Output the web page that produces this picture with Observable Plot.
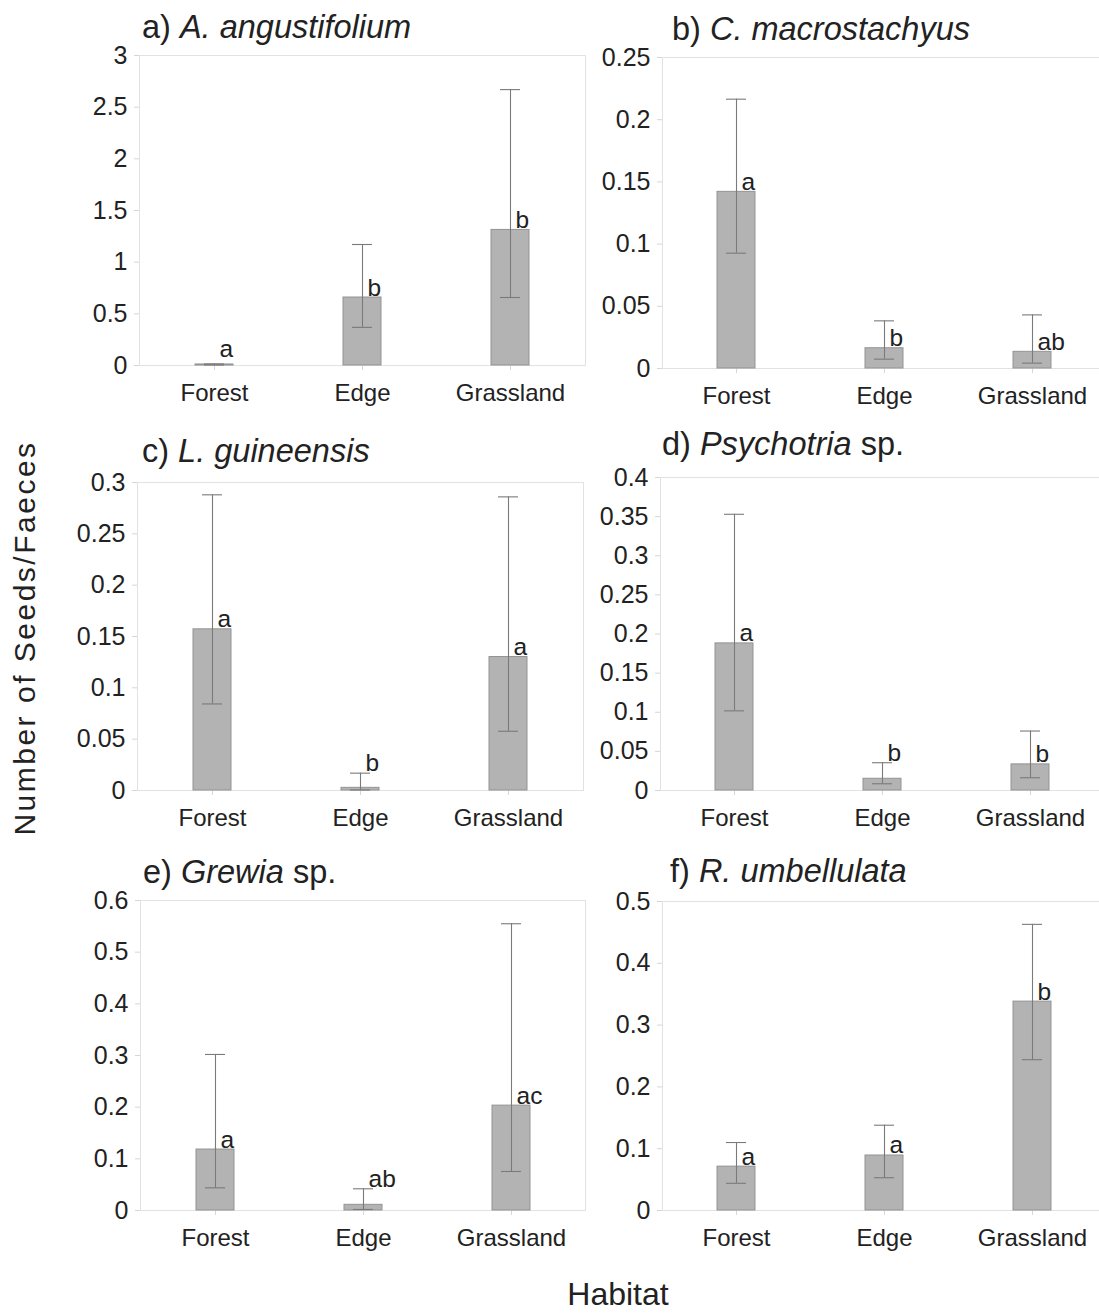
<!DOCTYPE html>
<html>
<head>
<meta charset="utf-8">
<script src="https://cdn.jsdelivr.net/npm/d3@7"></script>
<script src="https://cdn.jsdelivr.net/npm/@observablehq/plot@0.6"></script>
<style>
  html, body { margin: 0; padding: 0; background: #fff; overflow: hidden; }
  #root { position: relative; width: 1099px; height: 1313px; overflow: hidden; background: #fff;
          font-family: "Liberation Sans", Arial, sans-serif; color: #222; }
  .panel { position: absolute; }
  .panel svg { max-width: none !important; }
  .ptitle { position: absolute; font-size: 32.5px; line-height: 32.5px; white-space: nowrap; color: #222; }
  .ptitle i { font-style: italic; }
  #ytitle { position: absolute; left: 25px; top: 638px; font-size: 30px; line-height: 30px; letter-spacing: 2.5px;
            white-space: nowrap; transform: translate(-50%, -50%) rotate(-90deg); color: #222; }
  #xtitle { position: absolute; left: 618px; top: 1278px; font-size: 32px; line-height: 32px;
            transform: translateX(-50%); white-space: nowrap; color: #222; }
</style>
</head>
<body>
<div id="root"></div>
<script>
// ---- data ----
const habitats = ["Forest", "Edge", "Grassland"];
const panelLetters = ["a)", "b)", "c)", "d)", "e)", "f)"];
const speciesNames = ["A. angustifolium", "C. macrostachyus", "L. guineensis", "Psychotria", "Grewia", "R. umbellulata"];
const speciesSuffix = ["", "", "", " sp.", " sp.", ""];
const means = [
  [0.01, 0.658, 1.312],
  [0.142, 0.0163, 0.0134],
  [0.157, 0.0026, 0.130],
  [0.188, 0.015, 0.0334],
  [0.118, 0.011, 0.203],
  [0.071, 0.089, 0.338]
];
const lower = [
  [0.005, 0.369, 0.658],
  [0.0927, 0.0075, 0.0043],
  [0.0843, 0.0005, 0.0577],
  [0.1018, 0.0086, 0.0163],
  [0.0439, 0.002, 0.0755],
  [0.044, 0.053, 0.244]
];
const upper = [
  [0.015, 1.171, 2.67],
  [0.2165, 0.0383, 0.0431],
  [0.288, 0.0169, 0.286],
  [0.353, 0.0355, 0.076],
  [0.302, 0.042, 0.555],
  [0.110, 0.138, 0.463]
];
const groupLetters = [
  ["a", "b", "b"],
  ["a", "b", "ab"],
  ["a", "b", "a"],
  ["a", "b", "b"],
  ["a", "ab", "ac"],
  ["a", "a", "b"]
];
const letterY = [
  [0.06, 0.658, 1.312],
  [0.142, 0.0163, 0.0134],
  [0.157, 0.0169, 0.130],
  [0.188, 0.0355, 0.0334],
  [0.118, 0.042, 0.203],
  [0.071, 0.089, 0.338]
];
const yMax = [3, 0.25, 0.3, 0.4, 0.6, 0.5];
const yTicks = [
  [0, 0.5, 1, 1.5, 2, 2.5, 3],
  [0, 0.05, 0.1, 0.15, 0.2, 0.25],
  [0, 0.05, 0.1, 0.15, 0.2, 0.25, 0.3],
  [0, 0.05, 0.1, 0.15, 0.2, 0.25, 0.3, 0.35, 0.4],
  [0, 0.1, 0.2, 0.3, 0.4, 0.5, 0.6],
  [0, 0.1, 0.2, 0.3, 0.4, 0.5]
];

// ---- layout ----
const layout = [
  {left: 0,   ml: 139, w: 590, ft: 55,  fb: 365, tx: 142, tb: 38},
  {left: 590, ml: 72,  w: 521, ft: 57,  fb: 368, tx: 672, tb: 40},
  {left: 0,   ml: 137, w: 588, ft: 482, fb: 790, tx: 142, tb: 462},
  {left: 590, ml: 70,  w: 519, ft: 477, fb: 790, tx: 662, tb: 455},
  {left: 0,   ml: 140, w: 590, ft: 900, fb: 1210, tx: 143, tb: 883},
  {left: 590, ml: 72,  w: 521, ft: 901, fb: 1210, tx: 670, tb: 882}
];
const MT = 10, MB = 45, MR = 5;
const font = "'Liberation Sans', Arial, sans-serif";
const root = document.getElementById("root");

for (let i = 0; i < 6; i++) {
  const L = layout[i];
  const data = habitats.map((h, j) => ({
    habitat: h, mean: means[i][j], lo: lower[i][j], hi: upper[i][j],
    letter: groupLetters[i][j], ly: letterY[i][j]
  }));
  const chart = Plot.plot({
    width: L.w,
    height: (L.fb - L.ft) + MT + MB,
    marginLeft: L.ml, marginRight: MR, marginTop: MT, marginBottom: MB,
    style: {fontFamily: font, background: "white", overflow: "visible"},
    x: {domain: habitats, paddingInner: 0.744, paddingOuter: 0.372, label: null},
    y: {domain: [0, yMax[i]], label: null},
    marks: [
      Plot.frame({stroke: "#e2e2e2"}),
      Plot.axisX({tickSize: 5, tickPadding: 13, fontSize: 24, stroke: "#d6d6d6", fill: "#222", label: null}),
      Plot.axisY({ticks: yTicks[i], tickFormat: d => String(d), tickSize: 5, tickPadding: 7, fontSize: 25,
                  stroke: "#d6d6d6", fill: "#222", label: null}),
      Plot.barY(data, {x: "habitat", y: "mean", fill: "#b3b3b3", stroke: "#939393", strokeWidth: 1}),
      Plot.ruleX(data, {x: "habitat", y1: "lo", y2: "hi", stroke: "#7a7a7a", strokeWidth: 1.1}),
      Plot.tickY(data, {x: "habitat", y: "hi", stroke: "#7a7a7a", strokeWidth: 1.1, insetLeft: 9, insetRight: 9}),
      Plot.tickY(data, {x: "habitat", y: "lo", stroke: "#7a7a7a", strokeWidth: 1.1, insetLeft: 9, insetRight: 9}),
      Plot.text(data, {x: "habitat", y: "ly", text: "letter", textAnchor: "start", lineAnchor: "bottom",
                       dx: 5, dy: -2, fontSize: 24.5, fill: "#222"})
    ]
  });
  const wrap = document.createElement("div");
  wrap.className = "panel";
  wrap.style.left = L.left + "px";
  wrap.style.top = (L.ft - MT) + "px";
  wrap.style.width = L.w + "px";
  wrap.appendChild(chart);
  root.appendChild(wrap);

  const t = document.createElement("div");
  t.className = "ptitle";
  t.style.left = L.tx + "px";
  t.style.top = (L.tb - 27.5) + "px";
  t.appendChild(document.createTextNode(panelLetters[i] + " "));
  const it = document.createElement("i");
  it.textContent = speciesNames[i];
  t.appendChild(it);
  if (speciesSuffix[i]) t.appendChild(document.createTextNode(speciesSuffix[i]));
  root.appendChild(t);
}

const yt = document.createElement("div");
yt.id = "ytitle";
yt.textContent = "Number of Seeds/Faeces";
root.appendChild(yt);
const xt = document.createElement("div");
xt.id = "xtitle";
xt.textContent = "Habitat";
root.appendChild(xt);
</script>
</body>
</html>
